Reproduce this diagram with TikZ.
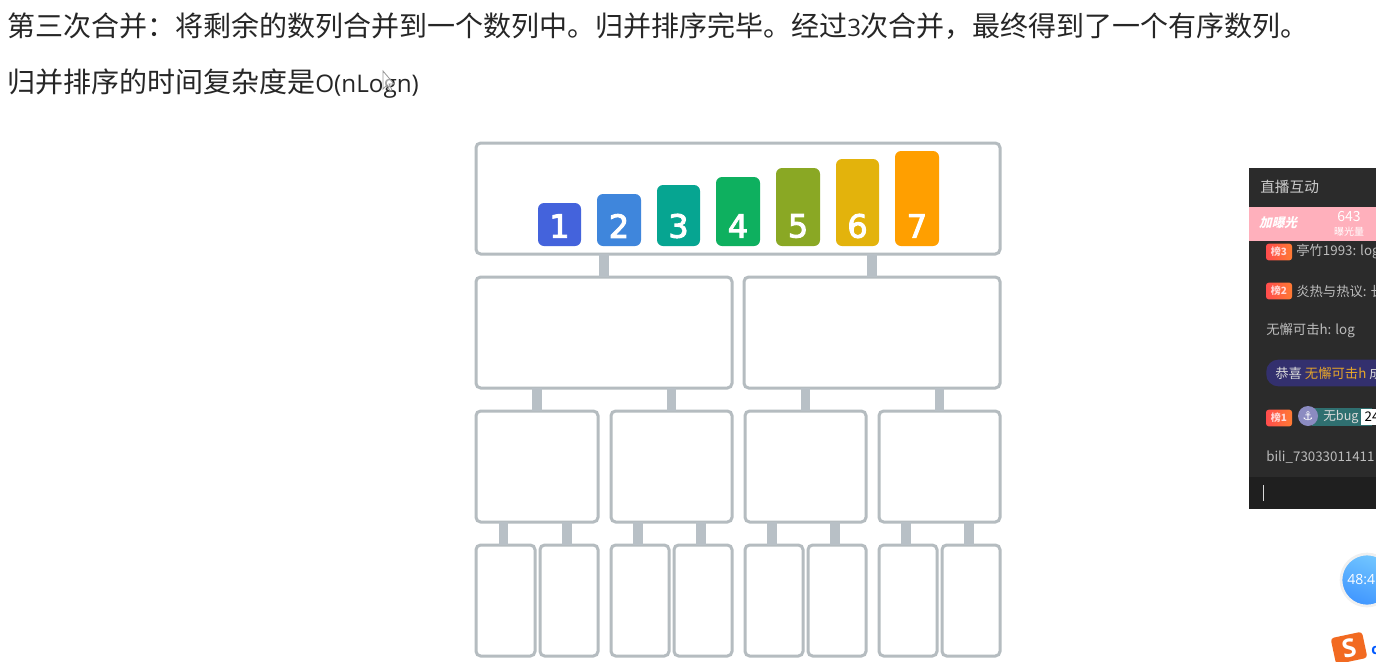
\documentclass[tikz,border=0pt]{standalone}
\usepackage{fontspec}
\setmainfont{Open Sans}
\newfontfamily\cjk{Noto Sans CJK SC}
\newfontfamily\symfont{DejaVu Sans}
\newfontfamily\digitfont[FakeBold=3]{DejaVu Sans}
\usetikzlibrary{calc}
\definecolor{frame}{HTML}{B5BCC0}
\definecolor{link}{HTML}{B8C0C6}
\definecolor{inktext}{HTML}{262626}
\definecolor{panel}{HTML}{2B2B2B}
\definecolor{panelfoot}{HTML}{1F1F1F}
\definecolor{paneltext}{HTML}{BCBCBC}
\definecolor{bandpink}{HTML}{FFB0BC}
\definecolor{pillblue}{HTML}{33306E}
\definecolor{medalteal}{HTML}{2F6F70}
\definecolor{gold}{HTML}{E5A52A}
\definecolor{logoorange}{HTML}{F26A21}
\tikzset{
  x=0.75pt,y=-0.75pt,
  tierbox/.style={draw=frame,line width=2.25pt,rounded corners=3.5pt,fill=white,inner sep=0pt,outer sep=0pt},
  linkbar/.style={draw=link,line width=7pt},
  bar/.style={rounded corners=4.5pt,inner sep=0pt,outer sep=0pt},
  digit/.style={text=white,font=\digitfont\fontsize{24}{24}\selectfont,inner sep=0pt},
  heading/.style={anchor=west,inner sep=0pt,text=inktext,font=\cjk\fontsize{21}{21}\selectfont},
  chat/.style={anchor=west,inner sep=0pt,text=paneltext,font=\cjk\fontsize{10}{10}\selectfont},
  badge/.style={rounded corners=2pt,left color=red!60!pink,right color=orange!70!red!80,inner sep=0pt,outer sep=0pt,text=white!85!red,font=\cjk\bfseries\fontsize{7.5}{7.5}\selectfont,minimum width=19.5pt,minimum height=12.5pt}
}
% name, x1, y1, x2, y2
\newcommand{\tierbox}[5]{\node[tierbox,minimum width=#4*0.75pt-#2*0.75pt,minimum height=#5*0.75pt-#3*0.75pt] (#1) at ({(#2+#4)/2},{(#3+#5)/2}) {};}
% name, colour, x1, ytop, x2, digit
\newcommand{\numbar}[6]{%
  \node[bar,fill=#2,minimum width=#5*0.75pt-#3*0.75pt,minimum height=246*0.75pt-#4*0.75pt] (#1) at ({(#3+#5)/2},{(#4+246)/2}) {};
  \node[digit] (#1d) at ({(#3+#5)/2},226) {#6};}
\begin{document}
\begin{tikzpicture}
\useasboundingbox (0,0) rectangle (1376,661);
\clip (0,0) rectangle (1376,661);
\fill[white] (0,0) rectangle (1376,661);
% headings
\node[heading] (h1) at (7,26) {第三次合并：将剩余的数列合并到一个数列中。归并排序完毕。经过{\rmfamily\fontsize{18}{18}\selectfont 3}次合并，最终得到了一个有序数列。};
\node[heading] (h2) at (7,83.5) {归并排序的时间复杂度是{\rmfamily\fontsize{18.2}{18.2}\selectfont O(nLogn)}};
% mouse pointer
\draw[gray!80,line width=0.6pt,fill=white,fill opacity=.6] (383,71) -- (383,89) -- (387,85) -- (390,91) -- (392,90) -- (389,84) -- (394,84) -- cycle;
% tree
\tierbox{top}{476}{143}{1000}{254}
\tierbox{ml}{476}{277}{732}{388}
\tierbox{mr}{744}{277}{1000}{388}
\tierbox{qa}{476}{411}{598}{522}
\tierbox{qb}{611}{411}{732}{522}
\tierbox{qc}{745}{411}{866}{522}
\tierbox{qd}{879}{411}{1000}{522}
\tierbox{la}{476}{545}{535}{656}
\tierbox{lb}{540}{545}{598}{656}
\tierbox{lc}{611}{545}{669}{656}
\tierbox{ld}{674}{545}{732}{656}
\tierbox{le}{745}{545}{803}{656}
\tierbox{lf}{808}{545}{866}{656}
\tierbox{lg}{879}{545}{937}{656}
\tierbox{lh}{942}{545}{1000}{656}
\draw[linkbar] (ml.north) -- (ml.north |- top.south);
\draw[linkbar] (mr.north) -- (mr.north |- top.south);
\foreach \c/\p in {qa/ml,qb/ml,qc/mr,qd/mr}
  \draw[linkbar] (\c.north) -- (\c.north |- \p.south);
\foreach \c/\p in {la/qa,lb/qa,lc/qb,ld/qb,le/qc,lf/qc,lg/qd,lh/qd}
  \draw[linkbar] ([xshift=-1.5pt]\c.north) -- ([xshift=-1.5pt]\c.north |- \p.south);
% numbered bars
\definecolor{bara}{HTML}{4463DC}
\definecolor{barb}{HTML}{3F86DC}
\definecolor{barc}{HTML}{06A591}
\definecolor{bard}{HTML}{0EB05F}
\definecolor{bare}{HTML}{8AA824}
\definecolor{barf}{HTML}{E3B30C}
\definecolor{barg}{HTML}{FF9F00}
\numbar{n1}{bara}{538}{203}{581}{1}
\numbar{n2}{barb}{597}{194}{641}{2}
\numbar{n3}{barc}{657}{185}{700}{3}
\numbar{n4}{bard}{716}{177}{760}{4}
\numbar{n5}{bare}{776}{168}{820}{5}
\numbar{n6}{barf}{836}{159}{879}{6}
\numbar{n7}{barg}{895}{151}{939}{7}
% live panel
\fill[panel] (1249,168) rectangle (1376,509);
\fill[panelfoot] (1249,477) rectangle (1376,509);
\fill[bandpink] (1249,207) rectangle (1376,241);
\node[chat,text=white!80!black,font=\cjk\fontsize{11}{11}\selectfont] (ptitle) at (1260,187) {直播互动};
\node[chat,text=white,font=\cjk\bfseries\fontsize{9.5}{9.5}\selectfont,xslant=0.25] (pglow) at (1260,223) {加曝光};
\node[text=white,inner sep=0pt,font=\cjk\fontsize{10.5}{10.5}\selectfont] (pnum) at (1349,217) {643};
\node[text=white,inner sep=0pt,font=\cjk\fontsize{7.5}{7.5}\selectfont] (plab) at (1349,232) {曝光量};
\node[badge] (b3) at (1279,252) {榜3};
\node[chat] (c3) at (1296,252) {亭竹1993: log};
\node[badge] (b2) at (1279,291) {榜2};
\node[chat] (c2) at (1296,291) {炎热与热议: 长};
\node[chat] (c0) at (1266,330) {无懈可击h: log};
\node[fill=pillblue,rounded corners=9pt,minimum width=130pt,minimum height=20pt,anchor=west,inner sep=0pt] (pill) at (1266,373) {};
\node[chat,text=white!85!black] (c4) at (1275,373) {恭喜 \textcolor{gold}{无懈可击h} 成};
\node[badge] (b1) at (1279,418) {榜1};
\node[fill=medalteal,minimum width=45pt,minimum height=13pt,anchor=west,inner sep=0pt] (medal) at (1312,417) {};
\node[circle,fill=blue!30!gray!70!white,minimum size=15pt,inner sep=0pt,text=white,font=\symfont\fontsize{9}{9}\selectfont] (anchorc) at (1308,416) {⚓};
\node[chat,text=white!85!black,font=\cjk\fontsize{9.5}{9.5}\selectfont] (mt) at (1323,417) {无bug};
\node[fill=white,minimum height=12pt,anchor=west,inner xsep=2.5pt,inner ysep=0pt,text=black,font=\cjk\fontsize{10}{10}\selectfont] (mv) at (1361,417) {24};
\node[chat] (c5) at (1266,457) {bili\_73033011411};
\draw[white!85!black,line width=0.7pt] (1263,485) -- (1263,501);
% timer
\node[circle,draw=gray!12,line width=2pt,minimum size=39pt,inner sep=0pt,top color=cyan!60!blue!55,bottom color=blue!55!cyan!75,shading angle=-20] (timer) at (1367,580) {};
\node[text=white,inner sep=0pt,anchor=west,font=\fontsize{10.5}{10.5}\selectfont] (ttime) at (1347,580) {48:4};
% input method logo
\node[fill=logoorange,rounded corners=2.5pt,rotate=12,minimum width=24pt,minimum height=20pt,inner sep=0pt,text=white,font=\bfseries\fontsize{19}{19}\selectfont] (logo) at (1349,648) {S};
\node[text=blue!65!cyan,inner sep=0pt,anchor=west,font=\bfseries\fontsize{11}{11}\selectfont] (logoc) at (1371,650) {c};
\end{tikzpicture}
\end{document}
